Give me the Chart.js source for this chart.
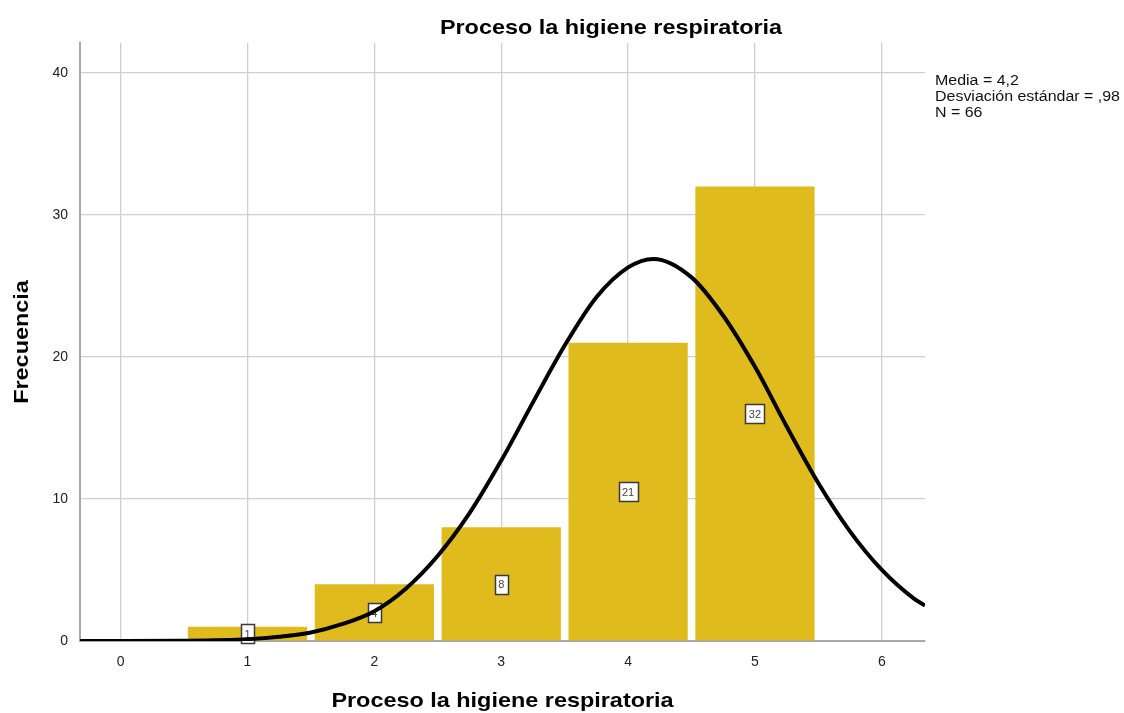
<!DOCTYPE html>
<html>
<head>
<meta charset="utf-8">
<script src="https://cdn.jsdelivr.net/npm/chart.js@4/dist/chart.umd.min.js"></script>
<style>
    html, body { margin: 0; padding: 0; background: #fff; }
    #wrap { width: 1124px; height: 713px; }
</style>
</head>
<body>
<div id="wrap"><canvas id="hist"></canvas></div>
<script>
// --- Data ---
const chartTitle = 'Proceso la higiene respiratoria';
const xTitle = 'Proceso la higiene respiratoria';
const yTitle = 'Frecuencia';
const statsLines = ['Media = 4,2', 'Desviación estándar = ,98', 'N = 66'];

const barX = [1, 2, 3, 4, 5];
const barCounts = [1, 4, 8, 21, 32];

// normal curve, sampled by eye from the reference
const curveX = [-0.32, 0, 0.5, 1, 1.25, 1.5, 1.75, 2, 2.25, 2.5, 2.75, 3, 3.25, 3.5, 3.75, 4, 4.2, 4.5, 4.75, 5, 5.25, 5.5, 5.75, 6, 6.25, 6.34];
const curveY = [0, 0, 0.02, 0.13, 0.3, 0.6, 1.2, 2.1, 3.7, 6.0, 9.0, 12.7, 16.8, 20.8, 24.2, 26.3, 26.9, 25.6, 22.9, 19.3, 15.1, 11.1, 7.7, 5.0, 3.0, 2.5];

const xTicks = [0, 1, 2, 3, 4, 5, 6];
const yTicks = [0, 10, 20, 30, 40];

const barColor = 'rgb(224, 187, 30)';
const gridColor = '#cfcfcf';
const FONT = '"Liberation Sans", Arial, sans-serif';

// draw text a little wider than the font, like the SPSS export does
function wideText(ctx, text, x, y, stretch) {
    ctx.save();
    ctx.translate(x, y);
    ctx.scale(stretch, 1);
    ctx.fillText(text, 0, 0);
    ctx.restore();
}

// --- Plugins ---
const countBoxes = {
    id: 'countBoxes',
    afterDatasetDraw(chart, args) {
        if (args.meta.type !== 'bar') return;
        const ctx = chart.ctx;
        const yScale = chart.scales.y;
        ctx.save();
        ctx.font = '11px ' + FONT;
        ctx.textAlign = 'center';
        ctx.textBaseline = 'middle';
        args.meta.data.forEach((bar, i) => {
            const v = barCounts[i];
            const cy = yScale.getPixelForValue(v / 2);
            const w = Math.round(ctx.measureText(String(v)).width) + 7;
            const h = 19;
            const x0 = Math.round(bar.x - w / 2) + 0.5;
            const y0 = Math.round(cy - h / 2) + 0.5;
            ctx.fillStyle = '#ffffff';
            ctx.fillRect(x0, y0, w, h);
            ctx.strokeStyle = '#3a3a3a';
            ctx.lineWidth = 1.5;
            ctx.strokeRect(x0, y0, w, h);
            ctx.fillStyle = '#444';
            ctx.fillText(String(v), bar.x, cy + 1);
        });
        ctx.restore();
    }
};

const textLayer = {
    id: 'textLayer',
    afterDraw(chart) {
        const ctx = chart.ctx;
        const area = chart.chartArea;
        ctx.save();
        ctx.fillStyle = '#000';
        ctx.textBaseline = 'middle';
        ctx.textAlign = 'center';
        ctx.font = 'bold 21px ' + FONT;
        wideText(ctx, chartTitle, 611, 28, 1.115);
        wideText(ctx, xTitle, (area.left + area.right) / 2, 701, 1.115);

        ctx.save();
        ctx.translate(22, (area.top + area.bottom) / 2);
        ctx.rotate(-Math.PI / 2);
        wideText(ctx, yTitle, 0, 0, 1.115);
        ctx.restore();

        ctx.textAlign = 'left';
        ctx.font = '14px ' + FONT;
        ctx.fillStyle = '#111';
        statsLines.forEach((line, i) => {
            wideText(ctx, line, 935, 81 + i * 16, 1.14);
        });
        ctx.restore();
    }
};

// --- Chart ---
const ctx = document.getElementById('hist').getContext('2d');
new Chart(ctx, {
    data: {
        datasets: [
            {
                type: 'line',
                label: 'Normal',
                data: curveX.map((x, i) => ({ x: x, y: curveY[i] })),
                borderColor: '#000',
                borderWidth: 4,
                pointRadius: 0,
                fill: false,
                cubicInterpolationMode: 'monotone',
                order: 0
            },
            {
                type: 'bar',
                label: 'Frecuencia',
                data: barX.map((x, i) => ({ x: x, y: barCounts[i] })),
                backgroundColor: barColor,
                borderWidth: 0,
                barPercentage: 0.94,
                categoryPercentage: 1.0,
                order: 1
            }
        ]
    },
    options: {
        responsive: true,
        maintainAspectRatio: false,
        animation: false,
        layout: { padding: { left: 0, top: 43, right: 199, bottom: 0 } },
        plugins: {
            legend: { display: false },
            tooltip: { enabled: false }
        },
        scales: {
            x: {
                type: 'linear',
                min: -0.32,
                max: 6.34,
                offset: false,
                afterBuildTicks: (scale) => { scale.ticks = xTicks.map(v => ({ value: v })); },
                afterFit: (scale) => { scale.height = 72; },
                grid: { color: gridColor, lineWidth: 1.3, drawTicks: false, offset: false },
                border: { color: '#a8a8a8', width: 2 },
                ticks: {
                    padding: 13,
                    color: '#222',
                    font: { family: FONT, size: 14 },
                    maxRotation: 0
                }
            },
            y: {
                type: 'linear',
                min: 0,
                max: 42.1,
                afterBuildTicks: (scale) => { scale.ticks = yTicks.map(v => ({ value: v })); },
                afterFit: (scale) => { scale.width = 80; },
                grid: { color: gridColor, lineWidth: 1.3, drawTicks: false },
                border: { color: '#a8a8a8', width: 2 },
                ticks: {
                    padding: 12,
                    color: '#222',
                    font: { family: FONT, size: 14 }
                }
            }
        }
    },
    plugins: [countBoxes, textLayer]
});
</script>
</body>
</html>
